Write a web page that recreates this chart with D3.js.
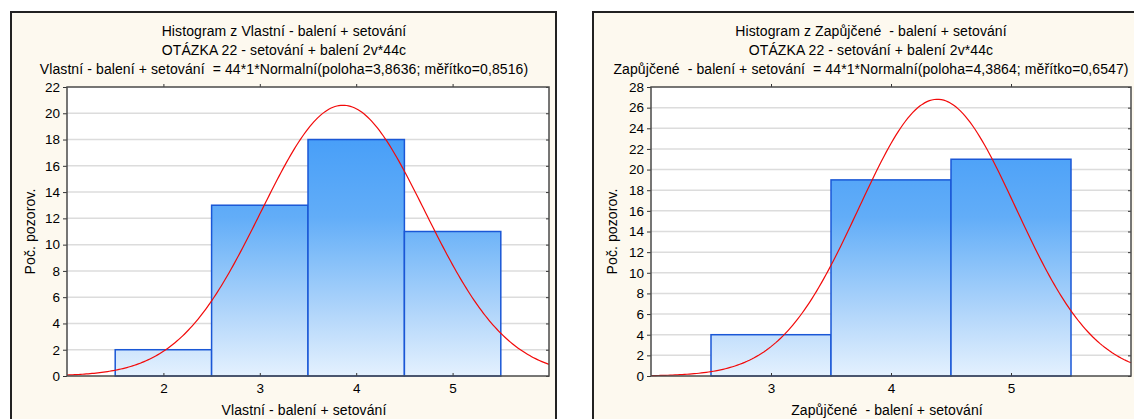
<!DOCTYPE html>
<html>
<head>
<meta charset="utf-8">
<script src="https://cdn.jsdelivr.net/npm/d3@7"></script>
<style>
	body { margin: 0; background: #fff; }
	svg { display: block; font-family: "Liberation Sans", Arial, sans-serif; }
	.title { font-size: 14px; fill: #000; white-space: pre; letter-spacing: 0.1px; }
	.tick text { font-size: 13.5px; fill: #000; }
</style>
</head>
<body>
<div id="chart"></div>
<script>
// data
const n_obs = 44;

const left_title = ["Histogram z Vlastní - balení + setování",
	"OTÁZKA 22 - setování + balení 2v*44c",
	"Vlastní - balení + setování  = 44*1*Normalní(poloha=3,8636; měřítko=0,8516)"];
const left_xlabel = "Vlastní - balení + setování";
const left_bins = [2, 3, 4, 5];
const left_counts = [2, 13, 18, 11];
const left_mean = 3.8636;
const left_sd = 0.8516;
const left_xdomain = [1, 6];
const left_xticks = [2, 3, 4, 5];
const left_yticks = [0, 2, 4, 6, 8, 10, 12, 14, 16, 18, 20, 22];

const right_title = ["Histogram z Zapůjčené  - balení + setování",
	"OTÁZKA 22 - setování + balení 2v*44c",
	"Zapůjčené  - balení + setování  = 44*1*Normalní(poloha=4,3864; měřítko=0,6547)"];
const right_xlabel = "Zapůjčené  - balení + setování";
const right_bins = [3, 4, 5];
const right_counts = [4, 19, 21];
const right_mean = 4.3864;
const right_sd = 0.6547;
const right_xdomain = [2, 6];
const right_xticks = [3, 4, 5];
const right_yticks = [0, 2, 4, 6, 8, 10, 12, 14, 16, 18, 20, 22, 24, 26, 28];

const W = 1134, H = 419;
const svg = d3.select("#chart").append("svg")
	.attr("width", W)
	.attr("height", H);

function draw_panel(opts) {
	const g = svg.append("g");
	// cream panel with dark frame
	g.append("rect")
		.attr("x", opts.px).attr("y", 12)
		.attr("width", opts.pw).attr("height", 440)
		.attr("fill", "#fdf9ef")
		.attr("stroke", "#222")
		.attr("stroke-width", 2);

	const x = d3.scaleLinear().domain(opts.xdomain).range([opts.left, opts.right]);
	const y = d3.scaleLinear().domain([0, d3.max(opts.yticks)]).range([376, 87]);

	// titles
	opts.title.forEach((t, i) => {
		g.append("text")
			.attr("class", "title")
			.attr("x", opts.tcenter)
			.attr("y", 36 + i * 19)
			.attr("text-anchor", "middle")
			.text(t);
	});

	// plot area
	g.append("rect")
		.attr("x", opts.left).attr("y", y.range()[1])
		.attr("width", opts.right - opts.left)
		.attr("height", y.range()[0] - y.range()[1])
		.attr("fill", "#fff");

	// horizontal grid
	g.append("g").selectAll("line")
		.data(opts.yticks.slice(1, -1))
		.enter().append("line")
		.attr("x1", opts.left).attr("x2", opts.right)
		.attr("y1", d => y(d)).attr("y2", d => y(d))
		.attr("stroke", "#dcdcdc")
		.attr("stroke-width", 1.5);

	// gradient in plot coordinates
	const gid = "grad_" + opts.px;
	const grad = svg.append("defs").append("linearGradient")
		.attr("id", gid)
		.attr("gradientUnits", "userSpaceOnUse")
		.attr("x1", 0).attr("x2", 0)
		.attr("y1", y.range()[1]).attr("y2", y.range()[0]);
	[[0, "#3a93f6"], [0.2, "#4aa0f8"], [0.45, "#62adf8"], [0.6, "#86c0f9"],
		[0.8, "#b6d8fb"], [1, "#e4f1fe"]].forEach(s => {
		grad.append("stop").attr("offset", s[0]).attr("stop-color", s[1]);
	});

	// bars
	g.append("g").selectAll("rect")
		.data(opts.bins.map((b, i) => ({bin: b, count: opts.counts[i]})))
		.enter().append("rect")
		.attr("x", d => x(d.bin - 0.5))
		.attr("width", d => x(d.bin + 0.5) - x(d.bin - 0.5))
		.attr("y", d => y(d.count))
		.attr("height", d => y(0) - y(d.count))
		.attr("fill", `url(#${gid})`)
		.attr("stroke", "#1a57d6")
		.attr("stroke-width", 1.5);

	// fitted normal curve, bin width 1
	const pdf = v => n_obs * Math.exp(-0.5 * Math.pow((v - opts.mean) / opts.sd, 2)) /
		(opts.sd * Math.sqrt(2 * Math.PI));
	const xs = d3.range(opts.xdomain[0], opts.xdomain[1] + 0.001, 0.02);
	const line = d3.line().x(d => x(d)).y(d => y(pdf(d)));
	g.append("path")
		.datum(xs)
		.attr("d", line)
		.attr("fill", "none")
		.attr("stroke", "#f20a0a")
		.attr("stroke-width", 1.2);

	// axes
	g.append("g")
		.attr("transform", `translate(${opts.left},0)`)
		.call(d3.axisLeft(y).tickValues(opts.yticks).tickSize(4).tickPadding(3))
		.call(a => a.select(".domain").remove());
	g.append("g")
		.attr("transform", `translate(${opts.right},0)`)
		.call(d3.axisLeft(y).tickValues(opts.yticks).tickSize(3).tickFormat(""))
		.call(a => a.select(".domain").remove());
	g.append("g")
		.attr("transform", `translate(0,${y(0)})`)
		.call(d3.axisTop(x).tickValues(opts.xticks).tickSize(3).tickFormat(""))
		.call(a => a.select(".domain").remove());
	g.append("g")
		.attr("transform", `translate(0,${y(0)})`)
		.call(d3.axisBottom(x).tickValues(opts.xticks).tickSize(0).tickPadding(7)
			.tickFormat(d3.format("d")))
		.call(a => a.select(".domain").remove());
	g.append("g")
		.attr("transform", `translate(0,${y.range()[1]})`)
		.call(d3.axisTop(x).tickValues(opts.xticks).tickSize(3).tickFormat(""))
		.call(a => a.select(".domain").remove());
	g.selectAll(".tick line").attr("stroke", "#333");

	// plot frame
	g.append("rect")
		.attr("x", opts.left).attr("y", y.range()[1])
		.attr("width", opts.right - opts.left)
		.attr("height", y.range()[0] - y.range()[1])
		.attr("fill", "none")
		.attr("stroke", "#4a4a4a")
		.attr("stroke-width", 1.5);

	// axis titles
	g.append("text")
		.attr("class", "title")
		.attr("x", (opts.left + opts.right) / 2 - 4)
		.attr("y", 415)
		.attr("text-anchor", "middle")
		.text(opts.xlabel);
	g.append("text")
		.attr("class", "title")
		.attr("transform", `translate(${opts.px + 24},${(y.range()[0] + y.range()[1]) / 2}) rotate(-90)`)
		.attr("text-anchor", "middle")
		.text("Poč. pozorov.");
}

draw_panel({px: 11, pw: 545, left: 67, right: 549, tcenter: 284, xdomain: left_xdomain,
	title: left_title, xlabel: left_xlabel, bins: left_bins, counts: left_counts,
	mean: left_mean, sd: left_sd, xticks: left_xticks, yticks: left_yticks});

draw_panel({px: 593, pw: 560, left: 651, right: 1131, tcenter: 871, xdomain: right_xdomain,
	title: right_title, xlabel: right_xlabel, bins: right_bins, counts: right_counts,
	mean: right_mean, sd: right_sd, xticks: right_xticks, yticks: right_yticks});
</script>
</body>
</html>
